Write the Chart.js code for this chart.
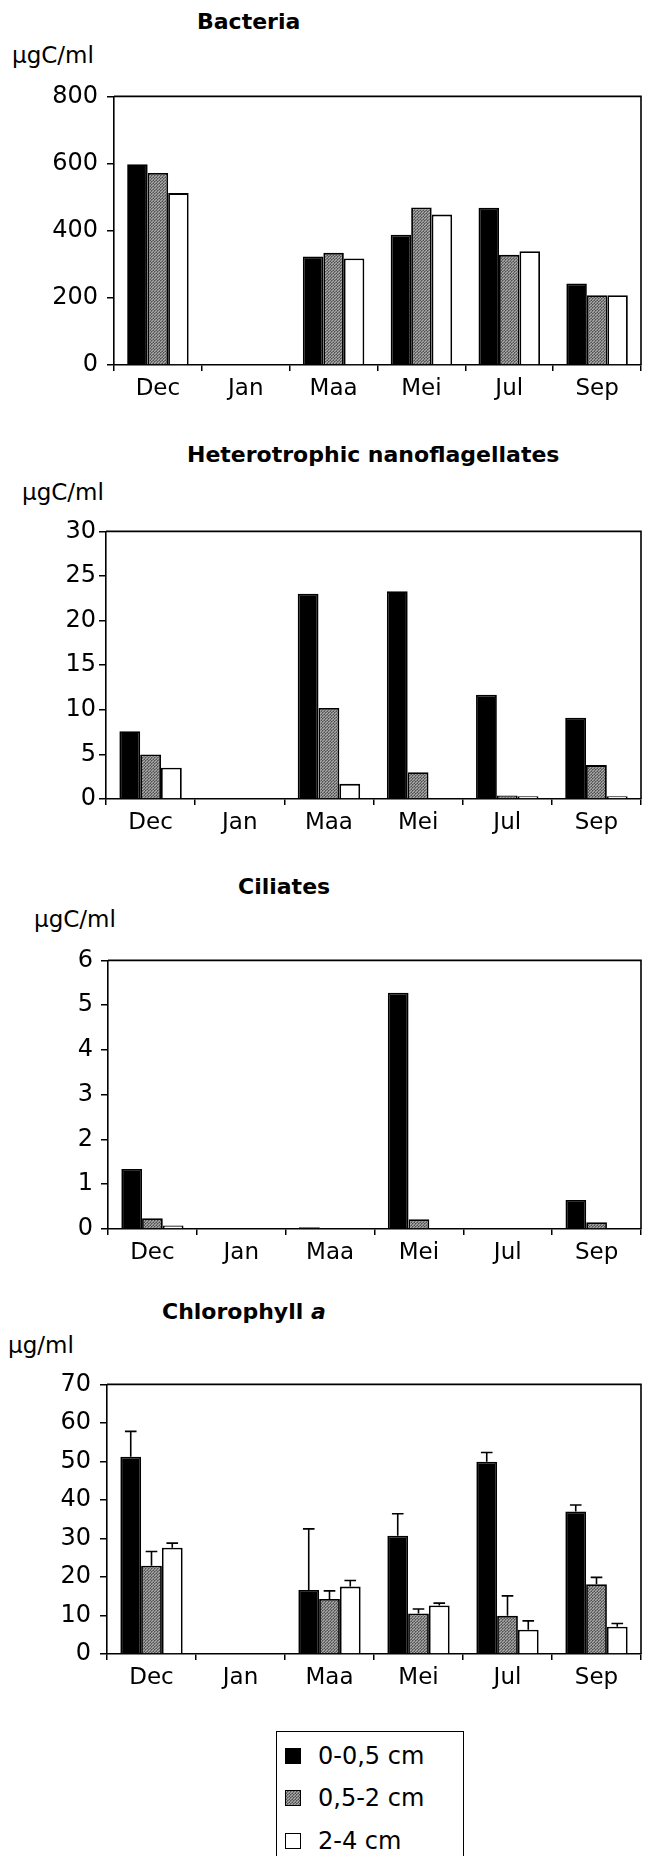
<!DOCTYPE html>
<html>
<head>
<meta charset="utf-8">
<script src="https://cdn.jsdelivr.net/npm/chart.js@4.4.1/dist/chart.umd.min.js"></script>
<style>
  html, body { margin: 0; padding: 0; background: #fff; }
  body { width: 645px; height: 1856px; position: relative; overflow: hidden; font-family: 'DejaVu Sans', sans-serif; color: #000; }
  canvas { position: absolute; left: 0; }
  .lbl { position: absolute; white-space: nowrap; line-height: 1; transform: translateY(-50%); }
  .title { font-weight: bold; font-size: 22px; }
  .unit { font-size: 23px; }
  #legend { position: absolute; left: 276px; top: 1731px; width: 186px; height: 150px; border: 1.5px solid #000; }
  #legend .item { position: absolute; left: 8px; display: flex; align-items: center; font-size: 24px; line-height: 1; transform: translateY(-50%); }
  #legend .sw { width: 16px; height: 16px; box-sizing: border-box; border: 1.5px solid #000; margin-right: 17px; }
</style>
</head>
<body>
<div class="lbl title" style="left:197px;top:22px">Bacteria</div>
<div class="lbl unit" style="left:12px;top:55px">µgC/ml</div>
<canvas id="c1"></canvas>

<div class="lbl title" style="left:187px;top:455px">Heterotrophic nanoflagellates</div>
<div class="lbl unit" style="left:22px;top:492px">µgC/ml</div>
<canvas id="c2"></canvas>

<div class="lbl title" style="left:238px;top:887px">Ciliates</div>
<div class="lbl unit" style="left:34px;top:919px">µgC/ml</div>
<canvas id="c3"></canvas>

<div class="lbl title" style="left:162px;top:1312px">Chlorophyll <i>a</i></div>
<div class="lbl unit" style="left:8px;top:1345px">µg/ml</div>
<canvas id="c4"></canvas>

<div id="legend"></div>

<script>
// sediment layer data
const months = ['Dec', 'Jan', 'Maa', 'Mei', 'Jul', 'Sep'];
const layers = ['0-0,5 cm', '0,5-2 cm', '2-4 cm'];

// Bacteria (µgC/ml)
const bactTop = [598, null, 323, 388, 468, 243];
const bactMid = [572, null, 334, 469, 328, 208];
const bactDeep = [512, null, 317, 448, 339, 208];

// Heterotrophic nanoflagellates (µgC/ml)
const hnfTop = [7.6, null, 23.0, 23.3, 11.7, 9.1];
const hnfMid = [5.0, null, 10.2, 3.0, 0.4, 3.8];
const hnfDeep = [3.5, null, 1.7, 0.1, 0.3, 0.3];

// Ciliates (µgC/ml)
const ciliTop = [1.34, null, 0.04, 5.28, 0, 0.65];
const ciliMid = [0.24, null, 0, 0.22, 0, 0.15];
const ciliDeep = [0.08, null, 0, 0, 0, 0];

// Chlorophyll a (µg/ml) with upper error bar ends
const chlTop = [51.2, null, 16.6, 30.7, 49.9, 37.0];
const chlMid = [22.9, null, 14.3, 10.5, 9.9, 18.1];
const chlDeep = [27.6, null, 17.5, 12.6, 6.3, 7.1];
const chlTopErr = [57.8, null, 32.5, 36.4, 52.3, 38.7];
const chlMidErr = [26.6, null, 16.4, 11.7, 15.1, 19.9];
const chlDeepErr = [28.8, null, 19.1, 13.2, 8.6, 7.9];

// halftone grey like the scanned print
function greyPattern() {
  const p = document.createElement('canvas');
  p.width = 3; p.height = 3;
  const g = p.getContext('2d');
  g.fillStyle = '#7a7a7a'; g.fillRect(0, 0, 3, 3);
  g.fillStyle = '#a8a8a8'; g.fillRect(0, 0, 1, 1); g.fillRect(2, 1, 1, 1); g.fillRect(1, 2, 1, 1);
  g.fillStyle = '#505050'; g.fillRect(1, 0, 1, 1); g.fillRect(0, 2, 1, 1);
  return p;
}
const greyCanvas = greyPattern();
const grey = greyCanvas.getContext('2d').createPattern(greyCanvas, 'repeat');
const fills = ['#000', grey, '#fff'];

Chart.defaults.font.family = "'DejaVu Sans', sans-serif";
Chart.defaults.color = '#000';

// top/right frame of the plot box + upward error bars
const framePlugin = {
  id: 'frame',
  afterDatasetsDraw(chart) {
    const ctx = chart.ctx, a = chart.chartArea;
    ctx.save();
    ctx.strokeStyle = '#000';
    ctx.lineWidth = 1.6;
    const y = chart.scales.y;
    chart.data.datasets.forEach((ds, i) => {
      if (!ds.errUp) return;
      chart.getDatasetMeta(i).data.forEach((bar, j) => {
        const e = ds.errUp[j];
        if (e == null) return;
        const ye = y.getPixelForValue(e);
        const cap = bar.width * 0.28;
        ctx.beginPath();
        ctx.moveTo(bar.x, bar.y);
        ctx.lineTo(bar.x, ye);
        ctx.moveTo(bar.x - cap, ye);
        ctx.lineTo(bar.x + cap, ye);
        ctx.stroke();
      });
    });
    ctx.beginPath();
    ctx.moveTo(a.left, a.top);
    ctx.lineTo(a.right, a.top);
    ctx.lineTo(a.right, a.bottom);
    ctx.stroke();
    ctx.restore();
  }
};

function makeChart(id, box, series, errs, yMax, yStep, labelPad) {
  const padTop = 16, axisH = 46;
  const el = document.getElementById(id);
  el.width = 645;
  el.height = box.bottom - box.top + padTop + axisH;
  el.style.top = (box.top - padTop) + 'px';
  const datasets = series.map((d, i) => ({
    label: layers[i],
    data: d,
    errUp: errs ? errs[i] : null,
    backgroundColor: fills[i],
    borderColor: '#000',
    borderWidth: 1.8,
    categoryPercentage: 0.7,
    barPercentage: 1.0,
  }));
  return new Chart(el, {
    type: 'bar',
    data: { labels: months, datasets },
    plugins: [framePlugin],
    options: {
      responsive: false,
      animation: false,
      devicePixelRatio: 1,
      layout: { padding: { top: padTop, right: 645 - box.right, left: 0, bottom: 0 } },
      plugins: { legend: { display: false }, tooltip: { enabled: false } },
      scales: {
        x: {
          grid: { offset: true, drawOnChartArea: false, drawTicks: true, tickLength: 6, color: '#000', lineWidth: 1.5 },
          border: { display: true, color: '#000', width: 1.6 },
          ticks: { font: { size: 23 }, padding: 4, maxRotation: 0, color: '#000' },
          afterFit(s) { s.height = axisH; },
        },
        y: {
          min: 0, max: yMax,
          grid: { drawOnChartArea: false, drawTicks: true, tickLength: 7, color: '#000', lineWidth: 1.5 },
          border: { display: true, color: '#000', width: 1.6 },
          ticks: { stepSize: yStep, font: { size: 24 }, padding: labelPad, color: '#000' },
          afterFit(s) { s.width = box.left; },
        },
      },
    },
  });
}

makeChart('c1', { top: 89, bottom: 365, left: 114, right: 641 }, [bactTop, bactMid, bactDeep], null, 800, 200, 9);
makeChart('c2', { top: 530, bottom: 799, left: 106, right: 641 }, [hnfTop, hnfMid, hnfDeep], null, 30, 5, 3);
makeChart('c3', { top: 954, bottom: 1229, left: 108, right: 641 }, [ciliTop, ciliMid, ciliDeep], null, 6, 1, 8);
makeChart('c4', { top: 1377, bottom: 1654, left: 107, right: 641 }, [chlTop, chlMid, chlDeep], [chlTopErr, chlMidErr, chlDeepErr], 70, 10, 9);

// legend box under the last panel
const legend = document.getElementById('legend');
const swatchBg = ['#000', 'url(' + greyCanvas.toDataURL() + ')', '#fff'];
const rowY = [24, 66, 109];
legend.innerHTML = layers.map((name, i) =>
  `<div class="item" style="top:${rowY[i]}px"><div class="sw" style="background:${swatchBg[i]}"></div>${name}</div>`
).join('');
</script>
</body>
</html>
